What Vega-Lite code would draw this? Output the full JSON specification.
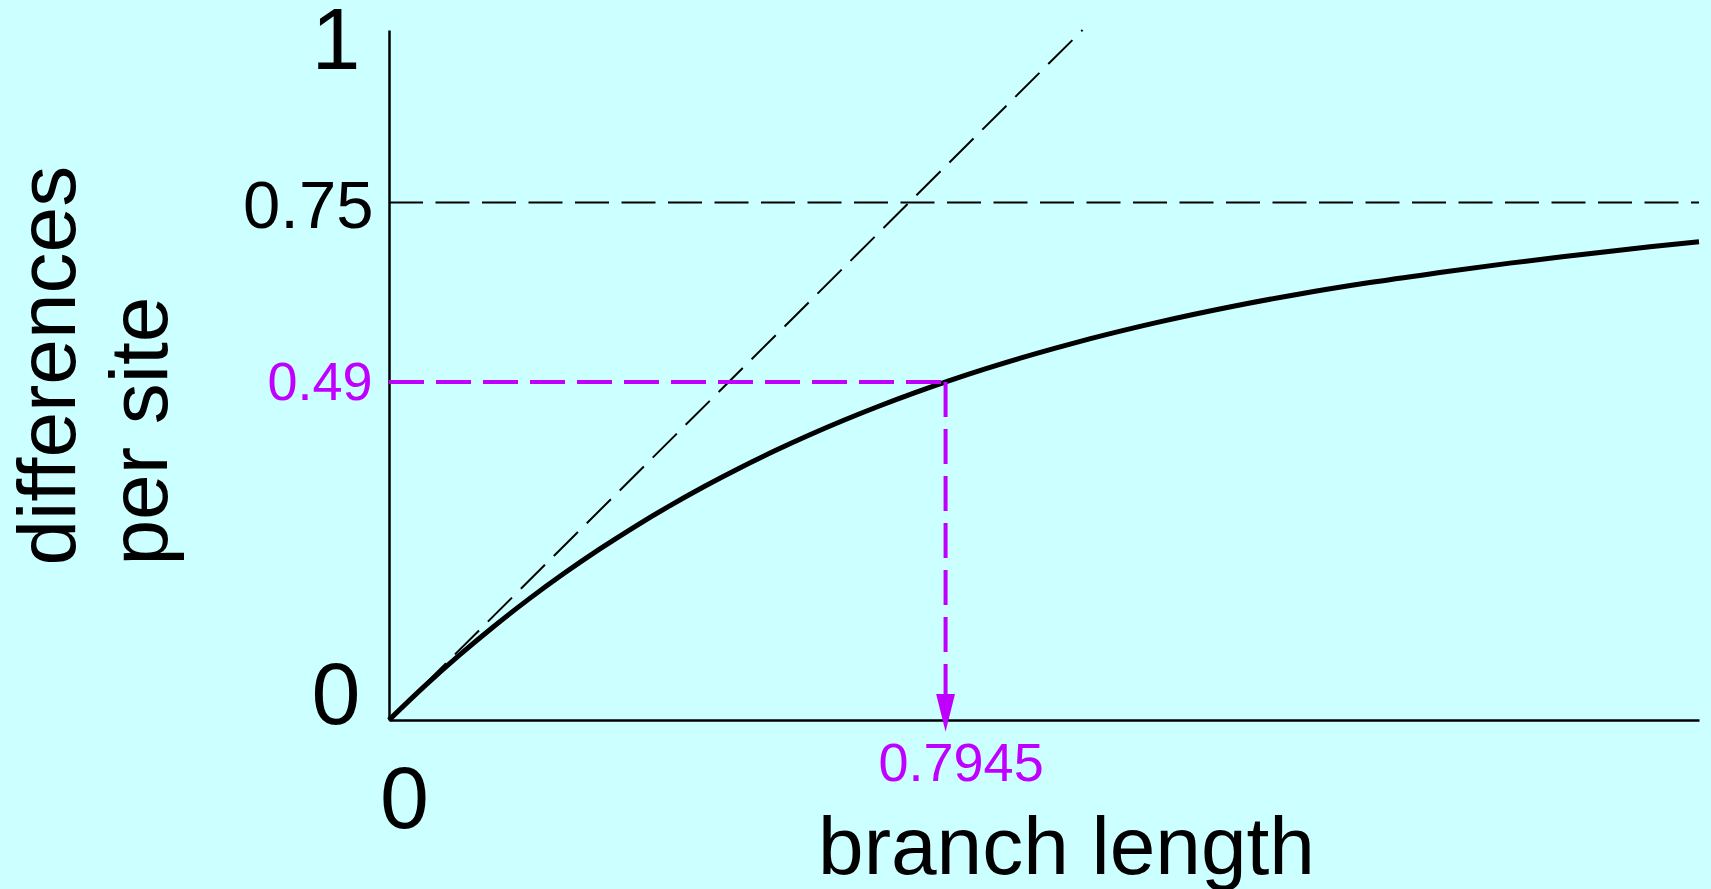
{
  "$schema": "https://vega.github.io/schema/vega-lite/v6.json",
  "width": 1310,
  "height": 690,
  "autosize": "none",
  "padding": {"left": 389, "top": 30, "right": 12, "bottom": 169},
  "background": "#CCFFFF",
  "config": {"view": {"stroke": null}, "font": "Liberation Sans"},
  "datasets": {
    "curve": [
      {"t": 0, "p": 0}, {"t": 0.05, "p": 0.04837}, {"t": 0.1, "p": 0.09362}, {"t": 0.15, "p": 0.13595},
      {"t": 0.2, "p": 0.17555}, {"t": 0.25, "p": 0.2126}, {"t": 0.3, "p": 0.24726}, {"t": 0.35, "p": 0.27968},
      {"t": 0.4, "p": 0.31001}, {"t": 0.45, "p": 0.33839}, {"t": 0.5, "p": 0.36494}, {"t": 0.55, "p": 0.38977},
      {"t": 0.6, "p": 0.413}, {"t": 0.65, "p": 0.43474}, {"t": 0.7, "p": 0.45507}, {"t": 0.75, "p": 0.47409},
      {"t": 0.8, "p": 0.49189}, {"t": 0.85, "p": 0.50853}, {"t": 0.9, "p": 0.52411}, {"t": 0.95, "p": 0.53867},
      {"t": 1.0, "p": 0.5523}, {"t": 1.1, "p": 0.57698}, {"t": 1.2, "p": 0.59858}, {"t": 1.3, "p": 0.61748},
      {"t": 1.4, "p": 0.63402}, {"t": 1.5, "p": 0.6485}, {"t": 1.6, "p": 0.66217}, {"t": 1.7, "p": 0.67426},
      {"t": 1.8, "p": 0.68596}, {"t": 1.87, "p": 0.69302}
    ],
    "segments": [
      {"kind": "diag", "t": 0, "p": 0, "t2": 0.99, "p2": 1.0},
      {"kind": "h75", "t": 0, "p": 0.75, "t2": 1.87, "p2": 0.75},
      {"kind": "h49", "t": 0, "p": 0.49, "t2": 0.7945, "p2": 0.49},
      {"kind": "v79", "t": 0.7945, "p": 0.49, "t2": 0.7945, "p2": 0.035}
    ],
    "arrow": [{"t": 0.7945, "p": 0}]
  },
  "encoding": {
    "x": {
      "field": "t", "type": "quantitative",
      "scale": {"domain": [0, 1.87], "nice": false, "zero": false},
      "axis": {
        "values": [0, 0.7945],
        "labelExpr": "datum.value == 0 ? '0' : '0.7945'",
        "ticks": false, "tickSize": 0, "grid": false,
        "domainColor": "black", "domainWidth": 2.5,
        "labelFlush": false, "labelOverlap": false, "labelBound": false,
        "labelAlign": "center", "labelBaseline": "alphabetic",
        "labelOffset": 15,
        "labelFontSize": {"condition": {"test": "datum.value == 0", "value": 88}, "value": 54},
        "labelColor": {"condition": {"test": "datum.value == 0", "value": "black"}, "value": "#BF00FF"},
        "labelPadding": {"condition": {"test": "datum.value == 0", "value": 107}, "value": 60},
        "title": "branch length",
        "titleFontSize": 82, "titleFontWeight": "normal", "titleColor": "black",
        "titleAlign": "center", "titleBaseline": "alphabetic",
        "titleX": 677, "titleY": 153
      }
    },
    "y": {
      "field": "p", "type": "quantitative",
      "scale": {"domain": [0, 1], "nice": false, "zero": false},
      "axis": {
        "values": [0, 0.49, 0.75, 1],
        "labelExpr": "datum.value == 1 ? '1' : datum.value == 0 ? '0' : datum.value == 0.75 ? '0.75' : '0.49'",
        "ticks": false, "tickSize": 0, "grid": false,
        "domainColor": "black", "domainWidth": 2.5,
        "labelFlush": false, "labelOverlap": false, "labelBound": false,
        "labelAlign": "right", "labelBaseline": "middle",
        "labelFontSize": {"condition": [
          {"test": "datum.value == 1 || datum.value == 0", "value": 88},
          {"test": "datum.value == 0.75", "value": 67}
        ], "value": 54},
        "labelColor": {"condition": {"test": "datum.value == 0.49", "value": "#BF00FF"}, "value": "black"},
        "labelOffset": {"condition": [
          {"test": "datum.value == 1", "value": 12},
          {"test": "datum.value == 0", "value": -23},
          {"test": "datum.value == 0.75", "value": 5}
        ], "value": 2},
        "labelPadding": {"condition": [
          {"test": "datum.value == 1 || datum.value == 0", "value": 29},
          {"test": "datum.value == 0.75", "value": 16}
        ], "value": 17},
        "title": ["differences", "per site"],
        "titleFontSize": 82, "titleFontWeight": "normal", "titleColor": "black",
        "titleLineHeight": 92, "titleAngle": 270,
        "titleAlign": "left", "titleBaseline": "alphabetic",
        "titleX": -315, "titleY": 535
      }
    }
  },
  "layer": [
    {
      "data": {"name": "curve"},
      "mark": {"type": "line", "color": "black", "strokeWidth": 5, "interpolate": "monotone"}
    },
    {
      "data": {"name": "segments"},
      "transform": [{"filter": "datum.kind == 'diag' || datum.kind == 'h75'"}],
      "mark": {"type": "rule", "color": "black", "strokeWidth": 2, "strokeDash": [34, 12.5]},
      "encoding": {"x2": {"field": "t2"}, "y2": {"field": "p2"}}
    },
    {
      "data": {"name": "segments"},
      "transform": [{"filter": "datum.kind == 'h49' || datum.kind == 'v79'"}],
      "mark": {"type": "rule", "color": "#BF00FF", "strokeWidth": 4, "strokeDash": [35, 12]},
      "encoding": {"x2": {"field": "t2"}, "y2": {"field": "p2"}}
    },
    {
      "data": {"name": "arrow"},
      "mark": {"type": "point", "filled": true, "color": "#BF00FF", "opacity": 1,
               "shape": "M-0.5,-1.38L0.5,-1.38L0,0.62Z", "size": 1421, "strokeWidth": 0}
    }
  ]
}
